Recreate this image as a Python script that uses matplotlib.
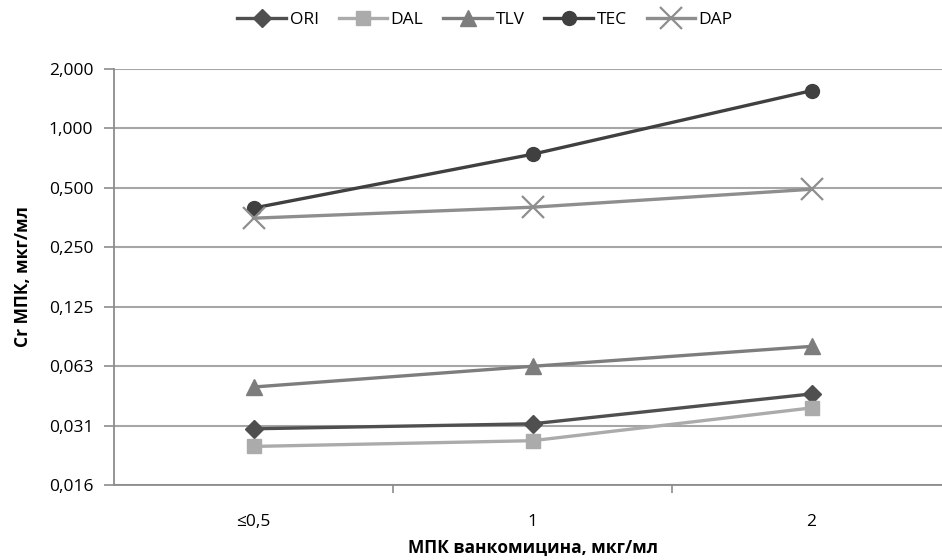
import numpy as np
import matplotlib
matplotlib.use('Agg')
import matplotlib.pyplot as plt
from matplotlib.ticker import FixedLocator, NullLocator

plt.rcParams['font.family'] = ['Open Sans', 'DejaVu Sans']

# vancomycin MIC groups and mean Cr MIC of each drug, mcg/ml
groups = ['≤0,5', '1', '2']
ori = [0.0301, 0.0319, 0.0452]
dal = [0.0245, 0.0262, 0.0384]
tlv = [0.049, 0.0624, 0.0787]
tec = [0.395, 0.74, 1.553]
dap = [0.351, 0.399, 0.492]

y_ticks = [1/64, 1/32, 1/16, 1/8, 1/4, 1/2, 1, 2]
y_labels = ['0,016', '0,031', '0,063', '0,125', '0,250', '0,500', '1,000', '2,000']

fig = plt.figure(figsize=(9.42, 5.6), dpi=100)
ax = fig.add_axes([114/942, 1 - 485/560, 837/942, 416/560])

x = np.arange(len(groups))
lw = 2.4
ax.plot(x, ori, color='#4f4f4f', lw=lw, marker='D', ms=9, label='ORI')
ax.plot(x, dal, color='#ababab', lw=lw, marker='s', ms=10, label='DAL')
ax.plot(x, tlv, color='#7d7d7d', lw=lw, marker='^', ms=11, label='TLV')
ax.plot(x, tec, color='#404040', lw=lw, marker='o', ms=10, label='TEC')
ax.plot(x, dap, color='#8e8e8e', lw=lw, marker='x', ms=16, mew=1.6, label='DAP')

ax.set_yscale('log', base=2)
ax.set_ylim(1/64, 2)
ax.yaxis.set_major_locator(FixedLocator(y_ticks))
ax.yaxis.set_minor_locator(NullLocator())
ax.set_yticklabels(y_labels)
ax.set_xlim(-0.5, 2.5)
ax.set_xticks(x)
ax.set_xticklabels(groups)
ax.set_xticks([0.5, 1.5], minor=True)

ax.grid(axis='y', color='#a6a6a6', lw=1.5)
ax.set_axisbelow(True)
for s in ['top', 'right']:
    ax.spines[s].set_visible(False)
for s in ['left', 'bottom']:
    ax.spines[s].set_color('#8c8c8c')
    ax.spines[s].set_linewidth(1.3)
ax.tick_params(axis='y', length=7, width=1.2, color='#8c8c8c', pad=8, labelsize=12.5)
ax.tick_params(axis='x', which='major', length=0, pad=21, labelsize=12.5)
ax.tick_params(axis='x', which='minor', length=6, width=1.2, color='#8c8c8c')

ax.set_ylabel('Cr МПК, мкг/мл', fontsize=12.5, fontweight='bold', labelpad=12)
ax.set_xlabel('МПК ванкомицина, мкг/мл', fontsize=12.5, fontweight='bold', labelpad=6)

fig.legend(loc='upper center', bbox_to_anchor=(0.515, 1.006), ncol=5, frameon=False,
           fontsize=12.5, handlelength=2.8, handletextpad=0.2, columnspacing=1.15)

fig.savefig('out.png', dpi=100)
